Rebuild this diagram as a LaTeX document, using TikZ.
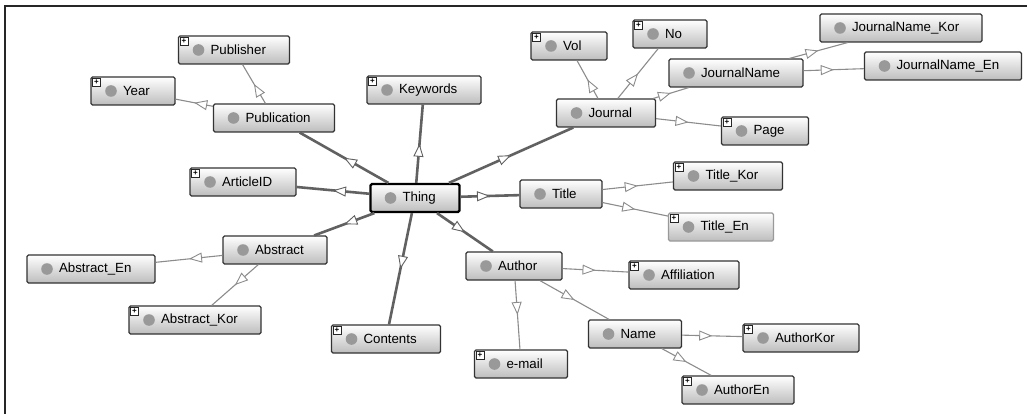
\documentclass[tikz,border=0pt]{standalone}
\usepackage{fontspec}
\setmainfont{Liberation Sans}
\usetikzlibrary{arrows.meta,decorations.markings}

\begin{document}
\begin{tikzpicture}[
        x=1pt, y=-1pt,
        cls/.style={draw=black!80, line width=1.1pt, rounded corners=1.5pt,
            top color=white, bottom color=black!26, text=black,
            font=\fontsize{13.3}{15}\selectfont,
            text width=#1pt-4pt, inner xsep=2pt, minimum height=28pt, align=left,
            execute at begin node={\hspace*{30pt}},
            path picture={\fill[black!40] ([xshift=20pt]path picture bounding box.west) circle (5.8pt);}},
        root/.style={cls=#1, draw=black, line width=2.2pt},
        faded/.style={cls=#1, draw=black!40},
        plusbox/.style={draw=black!85, fill=white, line width=0.7pt, inner sep=0pt, minimum size=8pt,
            font=\fontsize{8}{8}\selectfont\bfseries},
        midarrow/.style={postaction={decorate, decoration={markings,
            mark=at position 0.5 with {\arrow{Triangle[fill=white, line width=0.9pt, length=13pt, width=10pt]}}}}},
        hub/.style={draw=black!62, line width=2.6pt, midarrow},
        leaf/.style={draw=black!45, line width=1.1pt, midarrow}
    ]
    \useasboundingbox (0,0) rectangle (1027,414);
    \draw[line width=1.4pt, black!85] (5,414) |- (1027,6);

    % Nodes
    \node[root=89] (thing) at (415,198) {Thing};
    \node[cls=121] (publication) at (274,118) {Publication};
    \node[cls=111] (publisher) at (234,50) {Publisher};
    \node[cls=84] (year) at (133,91) {Year};
    \node[cls=114] (keywords) at (424,90) {Keywords};
    \node[cls=106] (articleid) at (243,182) {ArticleID};
    \node[cls=99] (journal) at (606,113) {Journal};
    \node[cls=76] (vol) at (569,46) {Vol};
    \node[cls=74] (no) at (670,34) {No};
    \node[cls=134] (jname) at (736,73) {JournalName};
    \node[cls=162] (jnamekor) at (901,28) {JournalName\_Kor};
    \node[cls=157] (jnameen) at (943,66) {JournalName\_En};
    \node[cls=87] (page) at (765,131) {Page};
    \node[cls=82] (title) at (561,194) {Title};
    \node[cls=109] (titlekor) at (728,176) {Title\_Kor};
    \node[faded=105] (titleen) at (721,227) {Title\_En};
    \node[cls=96] (author) at (514,266) {Author};
    \node[cls=110] (affiliation) at (684,275) {Affiliation};
    \node[cls=93] (name) at (635,334) {Name};
    \node[cls=116] (authorkor) at (801,338) {AuthorKor};
    \node[cls=93] (email) at (521,364) {e-mail};
    \node[cls=112] (authoren) at (738,390) {AuthorEn};
    \node[cls=104] (abstract) at (275,250) {Abstract};
    \node[cls=128] (abstracten) at (91,269) {Abstract\_En};
    \node[cls=132] (abstractkor) at (195,320) {Abstract\_Kor};
    \node[cls=109] (contents) at (386,339) {Contents};

    % Expand boxes
    \foreach \n in {publisher,year,keywords,articleid,vol,no,page,titlekor,titleen,
                    affiliation,authorkor,email,authoren,abstractkor,contents}
        \node[plusbox] (\n-plus) at ([shift={(6pt,-6pt)}]\n.north west) {+};

    % Arrows
    \draw[hub] (thing) -- (publication);
    \draw[hub] (thing) -- (keywords);
    \draw[hub] (thing) -- (articleid);
    \draw[hub] (thing) -- (journal);
    \draw[hub] (thing) -- (title);
    \draw[hub] (thing) -- (author);
    \draw[hub] (thing) -- (contents);
    \draw[hub] (thing) -- (abstract);

    \draw[leaf] (publication) -- (publisher);
    \draw[leaf] (publication) -- (year);
    \draw[leaf] (journal) -- (vol);
    \draw[leaf] (journal) -- (no);
    \draw[leaf] (journal) -- (jname);
    \draw[leaf] (journal) -- (page);
    \draw[leaf] (jname) -- (jnamekor);
    \draw[leaf] (jname) -- (jnameen);
    \draw[leaf] (title) -- (titlekor);
    \draw[leaf] (title) -- (titleen);
    \draw[leaf] (author) -- (affiliation);
    \draw[leaf] (author) -- (email);
    \draw[leaf] (author) -- (name);
    \draw[leaf] (name) -- (authorkor);
    \draw[leaf] (name) -- (authoren);
    \draw[leaf] (abstract) -- (abstracten);
    \draw[leaf] (abstract) -- (abstractkor);

\end{tikzpicture}
\end{document}
